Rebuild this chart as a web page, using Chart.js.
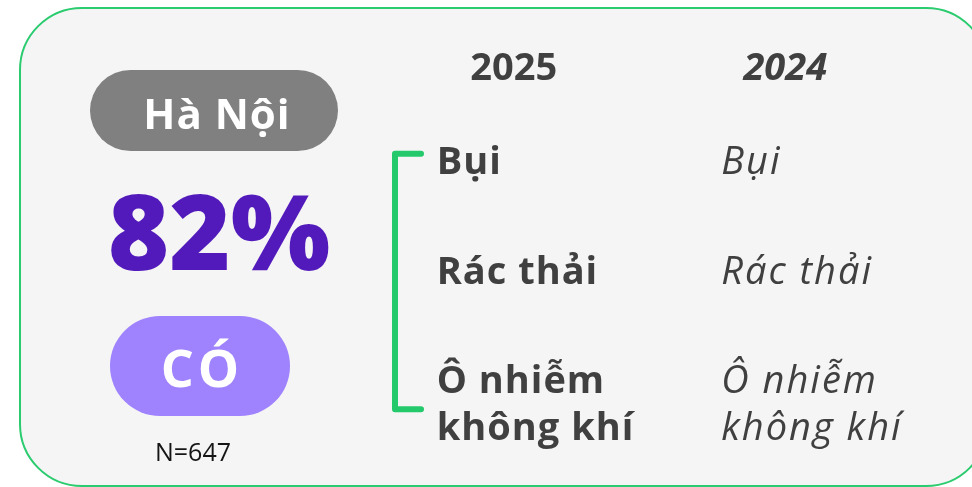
<!DOCTYPE html>
<html>
<head>
<meta charset="utf-8">
<script src="https://cdn.jsdelivr.net/npm/chart.js@4.4.1/dist/chart.umd.min.js"></script>
<style>
  html, body { margin: 0; padding: 0; background: #ffffff; }
  #wrap { width: 972px; height: 487px; position: relative; overflow: hidden; }
  canvas { display: block; }
</style>
</head>
<body>
<div id="wrap"><canvas id="c" width="972" height="487"></canvas></div>
<script>
// ---- data ----
const city = 'Hà Nội';
const shareValue = 82;
const shareAnswer = 'CÓ';
const sampleSize = 647;
const years = ['2025', '2024'];
const ranks2025 = ['Bụi', 'Rác thải', 'Ô nhiễm không khí'];
const ranks2024 = ['Bụi', 'Rác thải', 'Ô nhiễm không khí'];
const rankPositions = ['1', '2', '3'];

// ---- styles ----
const FONT = '"Open Sans", "Noto Sans", sans-serif';
const TEXT = '#404040';
const GREEN = '#2bcb6f';

function font(size, weight, style) {
  return (style || 'normal') + ' ' + (weight || 'normal') + ' ' + size + 'px ' + FONT;
}

function roundRectPath(ctx, x, y, w, h, r) {
  ctx.beginPath();
  ctx.moveTo(x + r, y);
  ctx.lineTo(x + w - r, y);
  ctx.arcTo(x + w, y, x + w, y + r, r);
  ctx.lineTo(x + w, y + h - r);
  ctx.arcTo(x + w, y + h, x + w - r, y + h, r);
  ctx.lineTo(x + r, y + h);
  ctx.arcTo(x, y + h, x, y + h - r, r);
  ctx.lineTo(x, y + r);
  ctx.arcTo(x, y, x + r, y, r);
  ctx.closePath();
}

function wrap(ctx, text, maxW) {
  const words = text.split(' ');
  const lines = [];
  let cur = '';
  words.forEach(w => {
    const test = cur ? cur + ' ' + w : w;
    if (cur && ctx.measureText(test).width > maxW) { lines.push(cur); cur = w; }
    else cur = test;
  });
  if (cur) lines.push(cur);
  return lines;
}

const cardPlugin = {
  id: 'card',
  beforeDraw(chart) {
    const ctx = chart.ctx;
    ctx.save();
    // outer card
    roundRectPath(ctx, 20, 8, 968, 478, 62);
    ctx.fillStyle = '#f5f5f5';
    ctx.fill();
    ctx.lineWidth = 2;
    ctx.strokeStyle = GREEN;
    ctx.stroke();

    // city pill
    roundRectPath(ctx, 90, 70, 248, 81, 40.5);
    ctx.fillStyle = '#808080';
    ctx.fill();
    ctx.fillStyle = '#ffffff';
    ctx.textAlign = 'center';
    ctx.textBaseline = 'alphabetic';
    ctx.font = font(42, 'bold');
    ctx.letterSpacing = '1px';
    ctx.fillText(city, 217, 129);

    // big share
    ctx.letterSpacing = '0px';
    ctx.fillStyle = '#5219bb';
    ctx.font = font(105, '800');
    ctx.fillText(shareValue + '%', 219, 270);

    // answer pill
    roundRectPath(ctx, 110, 316, 180, 100, 50);
    ctx.fillStyle = '#9f82fd';
    ctx.fill();
    ctx.fillStyle = '#ffffff';
    ctx.font = font(52, 'bold');
    ctx.letterSpacing = '4px';
    ctx.fillText(shareAnswer, 202, 387);

    // sample size
    ctx.letterSpacing = '0px';
    ctx.fillStyle = '#151515';
    ctx.font = font(25, 'normal');
    ctx.fillText('N=' + sampleSize, 193, 461);
    ctx.restore();
  },
  afterDraw(chart) {
    const ctx = chart.ctx;
    const xs = chart.scales.x;
    const ys = chart.scales.y;
    ctx.save();
    // bracket
    const top = ys.getPixelForValue(0) - 20;
    const bottom = ys.getPixelForValue(ranks2025.length - 1) + 16;
    ctx.beginPath();
    ctx.moveTo(421, top);
    ctx.lineTo(395, top);
    ctx.lineTo(395, bottom);
    ctx.lineTo(421, bottom);
    ctx.lineWidth = 6;
    ctx.lineCap = 'round';
    ctx.lineJoin = 'round';
    ctx.strokeStyle = '#23c96b';
    ctx.stroke();

    // cells
    const cols = [
      { items: ranks2025, weight: 'bold', style: 'normal', dx: -77, ls: '1px' },
      { items: ranks2024, weight: 'normal', style: 'italic', dx: -64, ls: '2px' }
    ];
    ctx.fillStyle = TEXT;
    ctx.textAlign = 'left';
    ctx.textBaseline = 'alphabetic';
    cols.forEach((col, ci) => {
      const x = xs.getPixelForValue(ci) + col.dx;
      ctx.font = font(38, col.weight, col.style);
      ctx.letterSpacing = col.ls;
      col.items.forEach((txt, ri) => {
        const y = ys.getPixelForValue(ri);
        const lines = wrap(ctx, txt, 230);
        lines.forEach((ln, li) => ctx.fillText(ln, x, y + li * 47));
      });
    });
    ctx.restore();
  }
};

new Chart(document.getElementById('c'), {
  type: 'line',
  data: { labels: years, datasets: [] },
  plugins: [cardPlugin],
  options: {
    responsive: false,
    animation: false,
    devicePixelRatio: 1,
    layout: { padding: { left: 378, right: 51, top: 44, bottom: 39 } },
    plugins: { legend: { display: false }, tooltip: { enabled: false } },
    scales: {
      x: {
        type: 'category',
        labels: years,
        position: 'top',
        offset: true,
        grid: { display: false, drawTicks: false },
        border: { display: false },
        afterFit: (scale) => { scale.height = 75; },
        ticks: {
          padding: 27,
          color: TEXT,
          font: (ctx) => ({ family: FONT, size: 38, weight: 'bold', style: ctx.index === 1 ? 'italic' : 'normal' })
        }
      },
      y: {
        type: 'category',
        labels: rankPositions,
        offset: true,
        display: false
      }
    }
  }
});
</script>
</body>
</html>
